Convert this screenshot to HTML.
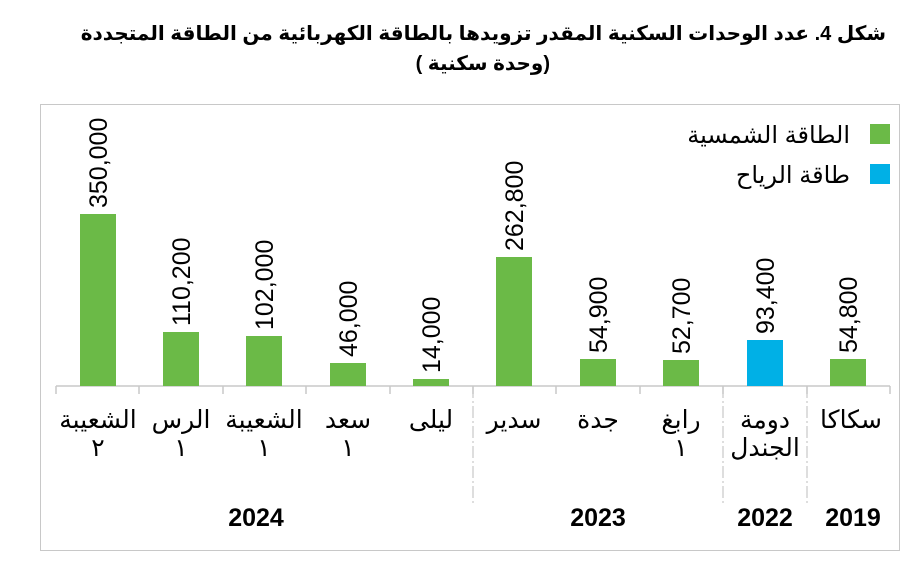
<!DOCTYPE html>
<html><head><meta charset="utf-8"><style>
body{margin:0;background:#fff;width:916px;height:562px;overflow:hidden}
</style></head><body>
<svg width="916" height="562" xmlns="http://www.w3.org/2000/svg" font-family="Liberation Sans, DejaVu Sans, Noto Sans CJK SC, sans-serif">
<text x="886" y="40" text-anchor="start" font-size="20" font-weight="bold" direction="rtl">شكل 4. عدد الوحدات السكنية المقدر تزويدها بالطاقة الكهربائية من الطاقة المتجددة</text>
<text x="550" y="70" text-anchor="start" font-size="20" font-weight="bold" direction="rtl">(وحدة سكنية )</text>
<rect x="40.5" y="104.5" width="859" height="446" fill="none" stroke="#c8c8c8"/>
<rect x="870" y="124" width="20" height="20" fill="#6bba47"/>
<rect x="870" y="164" width="20" height="20" fill="#00b0e6"/>
<text x="850" y="143" text-anchor="start" font-size="24" direction="rtl">الطاقة الشمسية</text>
<text x="850" y="183" text-anchor="start" font-size="24" direction="rtl">طاقة الرياح</text>
<g stroke="#c8c8c8" stroke-width="1.5">
<line x1="56" y1="386" x2="890" y2="386"/>
<line x1="56" y1="386" x2="56" y2="394"/><line x1="139" y1="386" x2="139" y2="394"/><line x1="223" y1="386" x2="223" y2="394"/><line x1="306" y1="386" x2="306" y2="394"/><line x1="390" y1="386" x2="390" y2="394"/><line x1="473" y1="386" x2="473" y2="394"/><line x1="556" y1="386" x2="556" y2="394"/><line x1="640" y1="386" x2="640" y2="394"/><line x1="723" y1="386" x2="723" y2="394"/><line x1="807" y1="386" x2="807" y2="394"/><line x1="890" y1="386" x2="890" y2="394"/>
</g>
<g stroke="#c8c8c8" stroke-width="1.2" stroke-dasharray="12,3,2,3">
<line x1="473" y1="386" x2="473" y2="505"/><line x1="723" y1="386" x2="723" y2="505"/><line x1="807" y1="386" x2="807" y2="505"/>
</g>
<g fill="#6bba47">
<rect x="80" y="214" width="36" height="172"/>
<rect x="163" y="332" width="36" height="54"/>
<rect x="246" y="336" width="36" height="50"/>
<rect x="330" y="363" width="36" height="23"/>
<rect x="413" y="379" width="36" height="7"/>
<rect x="496" y="257" width="36" height="129"/>
<rect x="580" y="359" width="36" height="27"/>
<rect x="663" y="360" width="36" height="26"/>
<rect x="830" y="359" width="36" height="27"/>
</g>
<rect x="747" y="340" width="36" height="46" fill="#00b0e6"/>
<g font-size="25" fill="#000">
<text transform="translate(107,208) rotate(-90)">350,000</text>
<text transform="translate(190,326) rotate(-90)">110,200</text>
<text transform="translate(273,330) rotate(-90)">102,000</text>
<text transform="translate(357,357) rotate(-90)">46,000</text>
<text transform="translate(440,373) rotate(-90)">14,000</text>
<text transform="translate(523,251) rotate(-90)">262,800</text>
<text transform="translate(607,353) rotate(-90)">54,900</text>
<text transform="translate(690,354) rotate(-90)">52,700</text>
<text transform="translate(774,334) rotate(-90)">93,400</text>
<text transform="translate(857,353) rotate(-90)">54,800</text>
</g>
<g font-size="25" text-anchor="middle">
<text x="98" y="428">الشعيبة</text><text x="98" y="456">٢</text>
<text x="181" y="428">الرس</text><text x="181" y="456">١</text>
<text x="264" y="428">الشعيبة</text><text x="264" y="456">١</text>
<text x="348" y="428">سعد</text><text x="348" y="456">١</text>
<text x="431" y="428">ليلى</text>
<text x="514" y="428">سدير</text>
<text x="598" y="428">جدة</text>
<text x="681" y="428">رابغ</text><text x="681" y="456">١</text>
<text x="765" y="428">دومة</text><text x="765" y="456">الجندل</text>
<text x="851" y="428">سكاكا</text>
</g>
<g font-size="25" font-weight="bold" text-anchor="middle">
<text x="256" y="526">2024</text>
<text x="598" y="526">2023</text>
<text x="765" y="526">2022</text>
<text x="853" y="526">2019</text>
</g>
</svg>
</body></html>
